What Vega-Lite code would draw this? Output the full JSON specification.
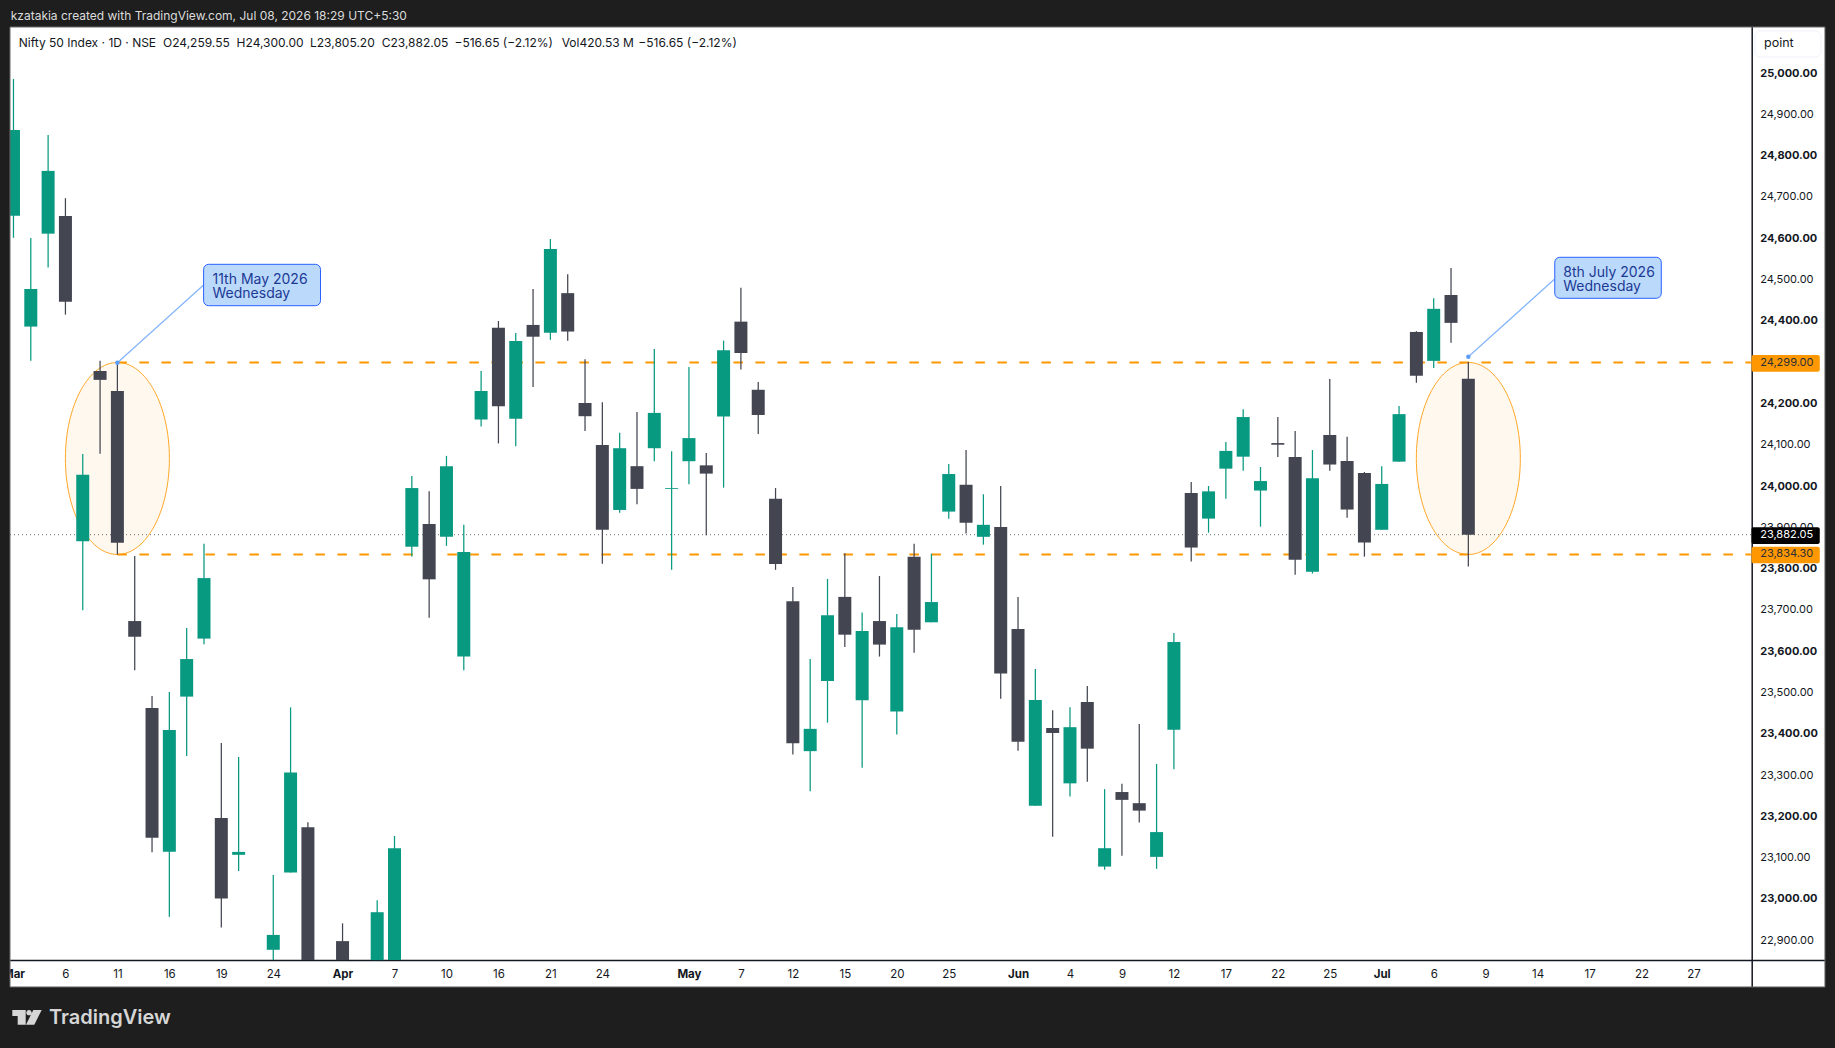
{
  "$schema": "https://vega.github.io/schema/vega-lite/v6.json",
  "width": 1835,
  "height": 1048,
  "autosize": {"type": "none"},
  "padding": 0,
  "background": "#ffffff",
  "config": {"view": {"stroke": null}, "font": "Inter", "text": {"font": "Inter"}},
  "datasets": {
    "candles": [
      {"bar":-6,"open":24654.5,"high":24985.5,"low":24601,"close":24862},
      {"bar":-5,"open":24386,"high":24600.5,"low":24303,"close":24477},
      {"bar":-4,"open":24611,"high":24850,"low":24529,"close":24763},
      {"bar":-3,"open":24654,"high":24697,"low":24415,"close":24446},
      {"bar":-2,"open":23866,"high":24077.5,"low":23699,"close":24027},
      {"bar":-1,"open":24278.5,"high":24303,"low":24078,"close":24257},
      {"bar":0,"open":24230,"high":24300,"low":23834,"close":23862.5},
      {"bar":1,"open":23673,"high":23830.5,"low":23554,"close":23635},
      {"bar":2,"open":23462.5,"high":23491.5,"low":23113,"close":23148},
      {"bar":3,"open":23114.5,"high":23501.5,"low":22957,"close":23409},
      {"bar":4,"open":23490,"high":23656,"low":23346,"close":23581},
      {"bar":5,"open":23630.5,"high":23860,"low":23617,"close":23777},
      {"bar":6,"open":23196,"high":23378,"low":22931,"close":23001},
      {"bar":7,"open":23107,"high":23344,"low":23068,"close":23114},
      {"bar":9,"open":22877,"high":23058,"low":22852,"close":22913},
      {"bar":10,"open":23064,"high":23464,"low":23064,"close":23306},
      {"bar":11,"open":23174,"high":23186,"low":22852,"close":22852},
      {"bar":13,"open":22898,"high":22941,"low":22852,"close":22852},
      {"bar":15,"open":22852,"high":22997,"low":22852,"close":22968},
      {"bar":16,"open":22852,"high":23152.5,"low":22852,"close":23123},
      {"bar":17,"open":23853,"high":24024.5,"low":23829.5,"close":23995},
      {"bar":18,"open":23908,"high":23987,"low":23681,"close":23774},
      {"bar":19,"open":23877,"high":24073,"low":23855,"close":24048},
      {"bar":20,"open":23587,"high":23906,"low":23554,"close":23840},
      {"bar":21,"open":24161,"high":24278.5,"low":24144,"close":24230},
      {"bar":22,"open":24383,"high":24399.5,"low":24103,"close":24193},
      {"bar":23,"open":24163,"high":24370.5,"low":24096,"close":24351},
      {"bar":24,"open":24390,"high":24477,"low":24240,"close":24361.5},
      {"bar":25,"open":24371,"high":24598,"low":24354,"close":24574},
      {"bar":26,"open":24467,"high":24513,"low":24352,"close":24374},
      {"bar":27,"open":24201,"high":24307,"low":24133,"close":24169},
      {"bar":28,"open":24099,"high":24203,"low":23812,"close":23894},
      {"bar":29,"open":23942,"high":24129,"low":23935,"close":24091.5},
      {"bar":30,"open":24048,"high":24179,"low":23956,"close":23993},
      {"bar":31,"open":24091.5,"high":24332,"low":24060,"close":24177},
      {"bar":32,"open":23993,"high":24084,"low":23797,"close":23995},
      {"bar":33,"open":24060,"high":24288,"low":24004,"close":24116},
      {"bar":34,"open":24050,"high":24080,"low":23881,"close":24030},
      {"bar":35,"open":24168,"high":24352,"low":23996,"close":24329},
      {"bar":36,"open":24398,"high":24480,"low":24282,"close":24322},
      {"bar":37,"open":24233,"high":24252,"low":24126,"close":24172},
      {"bar":38,"open":23969,"high":23995,"low":23797,"close":23811},
      {"bar":39,"open":23721,"high":23755.5,"low":23350,"close":23377},
      {"bar":40,"open":23358,"high":23581,"low":23261,"close":23412},
      {"bar":41,"open":23528,"high":23775,"low":23427,"close":23687},
      {"bar":42,"open":23731.5,"high":23837,"low":23610,"close":23640},
      {"bar":43,"open":23481,"high":23694,"low":23318,"close":23649},
      {"bar":44,"open":23673,"high":23782,"low":23587,"close":23616},
      {"bar":45,"open":23454,"high":23690,"low":23398,"close":23658},
      {"bar":46,"open":23829,"high":23860,"low":23596,"close":23652},
      {"bar":47,"open":23670,"high":23836,"low":23670,"close":23719},
      {"bar":48,"open":23938,"high":24053.5,"low":23921,"close":24029},
      {"bar":49,"open":24003,"high":24087,"low":23885,"close":23911},
      {"bar":50,"open":23877,"high":23980,"low":23858,"close":23906},
      {"bar":51,"open":23901,"high":24000,"low":23485,"close":23546},
      {"bar":52,"open":23654,"high":23731.5,"low":23359,"close":23381},
      {"bar":53,"open":23226,"high":23557,"low":23226,"close":23482},
      {"bar":54,"open":23414,"high":23457,"low":23151,"close":23402},
      {"bar":55,"open":23280,"high":23464,"low":23248,"close":23416},
      {"bar":56,"open":23477,"high":23516,"low":23284,"close":23364},
      {"bar":57,"open":23078.5,"high":23266,"low":23071,"close":23123},
      {"bar":58,"open":23259,"high":23279,"low":23105,"close":23240},
      {"bar":59,"open":23232,"high":23424,"low":23185,"close":23214},
      {"bar":60,"open":23102,"high":23327,"low":23073,"close":23162},
      {"bar":61,"open":23410,"high":23644,"low":23314,"close":23622},
      {"bar":62,"open":23983,"high":24010,"low":23817,"close":23851},
      {"bar":63,"open":23921,"high":24000,"low":23887,"close":23987},
      {"bar":64,"open":24042,"high":24106.5,"low":23969,"close":24085},
      {"bar":65,"open":24071,"high":24186,"low":24037,"close":24167},
      {"bar":66,"open":23989,"high":24046,"low":23901.5,"close":24012},
      {"bar":67,"open":24104,"high":24167,"low":24070,"close":24100},
      {"bar":68,"open":24070,"high":24133,"low":23785,"close":23821.5},
      {"bar":69,"open":23792.5,"high":24087,"low":23788,"close":24019},
      {"bar":70,"open":24123.5,"high":24259,"low":24037,"close":24052},
      {"bar":71,"open":24060.5,"high":24119,"low":23923,"close":23943},
      {"bar":72,"open":24031.5,"high":24034,"low":23829,"close":23863},
      {"bar":73,"open":23894,"high":24048,"low":23894,"close":24005},
      {"bar":74,"open":24059,"high":24194,"low":24059,"close":24174},
      {"bar":75,"open":24373,"high":24375,"low":24250,"close":24267},
      {"bar":76,"open":24303,"high":24454.5,"low":24286,"close":24429},
      {"bar":77,"open":24462.5,"high":24528,"low":24347,"close":24395},
      {"bar":78,"open":24259.55,"high":24300,"low":23805.2,"close":23882.05}
    ],
    "ellipses": [{"bar":0,"price":24066.65},{"bar":78,"price":24066.65}],
    "levels": [
      {"bar":0,"bar2":94.35,"price":24299},
      {"bar":0,"bar2":94.35,"price":23834.3}
    ],
    "lastPrice": [{"bar":-6.2,"bar2":94.35,"price":23882.05}],
    "connectors": [
      {"bar":0,"bar2":4.977,"price":24298.6,"price2":24486.7},
      {"bar":78,"bar2":82.97,"price":24313.1,"price2":24500.5}
    ],
    "anchors": [{"bar":0,"price":24298.6},{"bar":78,"price":24313.1}],
    "callouts": [
      {"bar":4.977,"bar2":11.727,"price":24436.6,"price2":24536.8},
      {"bar":82.99,"bar2":89.14,"price":24454.5,"price2":24553.8}
    ],
    "calloutText": [
      {"bar":5.491,"price":24498,"label":"11th May 2026"},
      {"bar":5.491,"price":24464,"label":"Wednesday"},
      {"bar":83.48,"price":24516,"label":"8th July 2026"},
      {"bar":83.48,"price":24482,"label":"Wednesday"}
    ],
    "orangeTags": [
      {"bar":94.35,"bar2":98.29,"price":24276.7,"price2":24317.2},
      {"bar":94.35,"bar2":98.29,"price":23812.8,"price2":23853}
    ],
    "orangeTagText": [
      {"bar":94.85,"price":24299,"label":"24,299.00"},
      {"bar":94.85,"price":23834.3,"label":"23,834.30"}
    ],
    "lastTag": [{"bar":94.35,"bar2":98.29,"price":23859.6,"price2":23900}],
    "lastTagText": [{"bar":94.85,"price":23882.05,"label":"23,882.05"}],
    "pointButton": [{"bar":94.55,"bar2":98.36,"price":25038.7,"price2":25101.7}],
    "pointText": [{"bar":95.07,"price":25073,"label":"point"}],
    "frame": [
      {"bar":-6.778,"bar2":-6.2,"price":22639.2,"price2":25176.8},
      {"bar":98.59,"bar2":99.17,"price":22639.2,"price2":25176.8},
      {"bar":-6.778,"bar2":99.17,"price":25111.4,"price2":25176.8},
      {"bar":-6.778,"bar2":99.17,"price":22639.2,"price2":22787}
    ],
    "outline": [{"bar":-6.2,"bar2":98.59,"price":22787,"price2":25111.4}],
    "header": [{"bar":-6.16,"price":25138.7,"label":"kzatakia created with TradingView.com, Jul 08, 2026 18:29 UTC+5:30"}],
    "legend": [
      {"bar":-5.696,"price":25073.4,"label":"Nifty 50 Index · 1D · NSE"},
      {"bar":2.633,"price":25073.4,"label":"O24,259.55"},
      {"bar":6.882,"price":25073.4,"label":"H24,300.00"},
      {"bar":11.12,"price":25073.4,"label":"L23,805.20"},
      {"bar":15.26,"price":25073.4,"label":"C23,882.05"},
      {"bar":19.46,"price":25073.4,"label":"−516.65 (−2.12%)"},
      {"bar":25.65,"price":25073.4,"label":"Vol420.53 M"},
      {"bar":30.08,"price":25073.4,"label":"−516.65 (−2.12%)"}
    ],
    "logo": [{"bar":-5.219,"price":22713.5}],
    "footer": [{"bar":-3.95,"price":22711.9,"label":"TradingView"}]
  },
  "encoding": {
    "x": {
      "field": "bar",
      "type": "quantitative",
      "title": null,
      "scale": {"domain": [-6.778, 99.17], "nice": false, "zero": false, "padding": 0},
      "axis": {
        "title": null,
        "orient": "bottom",
        "offset": -88,
        "grid": false,
        "ticks": false,
        "domainColor": "#131722",
        "domainWidth": 1.5,
        "labelPadding": 8,
        "labelFont": "Inter",
        "labelFontSize": 11.5,
        "labelColor": "#131722",
        "labelOverlap": false,
        "labelFlush": false,
        "values": [-6,-3,0,3,6,9,13,16,19,22,25,28,33,36,39,42,45,48,52,55,58,61,64,67,70,73,76,79,82,85,88,91],
        "labelExpr": "{'-6':'Mar','-3':'6','0':'11','3':'16','6':'19','9':'24','13':'Apr','16':'7','19':'10','22':'16','25':'21','28':'24','33':'May','36':'7','39':'12','42':'15','45':'20','48':'25','52':'Jun','55':'4','58':'9','61':'12','64':'17','67':'22','70':'25','73':'Jul','76':'6','79':'9','82':'14','85':'17','88':'22','91':'27'}[datum.value]",
        "labelFontWeight": {"condition": {"test": "indexof([-6,13,33,52,73], datum.value) >= 0", "value": "bold"}, "value": "normal"}
      }
    },
    "y": {
      "field": "price",
      "type": "quantitative",
      "title": null,
      "scale": {"domain": [22639.2, 25176.8], "nice": false, "zero": false},
      "axis": {
        "title": null,
        "orient": "right",
        "offset": -83.3,
        "grid": false,
        "ticks": false,
        "domainColor": "#131722",
        "domainWidth": 1.5,
        "labelPadding": 8,
        "labelFont": "Inter",
        "labelFontSize": 11,
        "labelColor": "#131722",
        "labelOverlap": false,
        "labelFlush": false,
        "format": ",.2f",
        "values": [22900,23000,23100,23200,23300,23400,23500,23600,23700,23800,23900,24000,24100,24200,24300,24400,24500,24600,24700,24800,24900,25000],
        "labelFontWeight": {"condition": {"test": "datum.value % 200 == 0", "value": 700}, "value": 400}
      }
    }
  },
  "layer": [
    {
      "data": {"name": "ellipses"},
      "mark": {
        "type": "point",
        "filled": false,
        "shape": "M-0.5417,0 A0.5417,1 0 1,1 0.5417,0 A0.5417,1 0 1,1 -0.5417,0 Z",
        "size": 36864,
        "fill": "#fff8ef",
        "fillOpacity": 1,
        "stroke": "#ffa726",
        "strokeWidth": 1,
        "opacity": 1
      }
    },
    {
      "data": {"name": "lastPrice"},
      "mark": {"type": "rule", "color": "#6b6b6b", "strokeWidth": 1, "strokeDash": [1, 3]},
      "encoding": {"x2": {"field": "bar2"}}
    },
    {
      "data": {"name": "levels"},
      "mark": {"type": "rule", "color": "#ff9800", "strokeWidth": 2, "strokeDash": [9.5, 12.5]},
      "encoding": {"x2": {"field": "bar2"}}
    },
    {
      "data": {"name": "candles"},
      "mark": {"type": "rule", "strokeWidth": 1.25},
      "encoding": {
        "y": {"field": "low", "type": "quantitative", "title": null},
        "y2": {"field": "high"},
        "color": {"condition": {"test": "datum.close >= datum.open", "value": "#089981"}, "value": "#434651"}
      }
    },
    {
      "data": {"name": "candles"},
      "mark": {"type": "bar", "size": 13},
      "encoding": {
        "y": {"field": "open", "type": "quantitative", "title": null},
        "y2": {"field": "close"},
        "color": {"condition": {"test": "datum.close >= datum.open", "value": "#089981"}, "value": "#434651"}
      }
    },
    {
      "data": {"name": "connectors"},
      "mark": {"type": "rule", "color": "#82b4fb", "strokeWidth": 1.2},
      "encoding": {"x2": {"field": "bar2"}, "y2": {"field": "price2"}}
    },
    {
      "data": {"name": "anchors"},
      "mark": {"type": "point", "filled": true, "shape": "circle", "size": 20, "color": "#5b9cf6", "opacity": 1}
    },
    {
      "data": {"name": "callouts"},
      "mark": {"type": "rect", "fill": "#bbd9fb", "stroke": "#2962ff", "strokeWidth": 1, "cornerRadius": 5},
      "encoding": {"x2": {"field": "bar2"}, "y2": {"field": "price2"}}
    },
    {
      "data": {"name": "calloutText"},
      "mark": {"type": "text", "align": "left", "baseline": "middle", "font": "Inter", "fontSize": 14, "color": "#1c3a94"},
      "encoding": {"text": {"field": "label"}}
    },
    {
      "data": {"name": "lastTag"},
      "mark": {"type": "rect", "fill": "#000000", "cornerRadius": 2},
      "encoding": {"x2": {"field": "bar2"}, "y2": {"field": "price2"}}
    },
    {
      "data": {"name": "lastTagText"},
      "mark": {"type": "text", "align": "left", "baseline": "middle", "font": "Inter", "fontSize": 11, "color": "#ffffff"},
      "encoding": {"text": {"field": "label"}}
    },
    {
      "data": {"name": "orangeTags"},
      "mark": {"type": "rect", "fill": "#ff9800", "cornerRadius": 2},
      "encoding": {"x2": {"field": "bar2"}, "y2": {"field": "price2"}}
    },
    {
      "data": {"name": "orangeTagText"},
      "mark": {"type": "text", "align": "left", "baseline": "middle", "font": "Inter", "fontSize": 11, "color": "#2a2e39"},
      "encoding": {"text": {"field": "label"}}
    },
    {
      "data": {"name": "pointButton"},
      "mark": {"type": "rect", "fill": "#ffffff", "stroke": "#f0f3fa", "strokeWidth": 1, "cornerRadius": 5},
      "encoding": {"x2": {"field": "bar2"}, "y2": {"field": "price2"}}
    },
    {
      "data": {"name": "pointText"},
      "mark": {"type": "text", "align": "left", "baseline": "middle", "font": "Inter", "fontSize": 12.5, "color": "#131722"},
      "encoding": {"text": {"field": "label"}}
    },
    {
      "data": {"name": "legend"},
      "mark": {"type": "text", "align": "left", "baseline": "middle", "font": "Inter", "fontSize": 12, "color": "#131722"},
      "encoding": {"text": {"field": "label"}}
    },
    {
      "data": {"name": "frame"},
      "mark": {"type": "rect", "fill": "#1e1e1e"},
      "encoding": {"x2": {"field": "bar2"}, "y2": {"field": "price2"}}
    },
    {
      "data": {"name": "outline"},
      "mark": {"type": "rect", "fill": null, "stroke": "#6a6a6a", "strokeWidth": 1},
      "encoding": {"x2": {"field": "bar2"}, "y2": {"field": "price2"}}
    },
    {
      "data": {"name": "header"},
      "mark": {"type": "text", "align": "left", "baseline": "middle", "font": "Inter", "fontSize": 12, "color": "#dcdcdc"},
      "encoding": {"text": {"field": "label"}}
    },
    {
      "data": {"name": "logo"},
      "mark": {
        "type": "point",
        "filled": true,
        "opacity": 1,
        "size": 864,
        "color": "#d6d6d6",
        "shape": "M-1,-0.5 L-0.088,-0.5 L-0.088,0.5 L-0.633,0.5 L-0.633,-0.092 L-1,-0.092 Z M-0.048,-0.316 A0.184,0.184 0 1,1 0.32,-0.316 A0.184,0.184 0 1,1 -0.048,-0.316 Z M0.429,-0.5 L1,-0.5 L0.497,0.5 L-0.068,0.5 Z"
      }
    },
    {
      "data": {"name": "footer"},
      "mark": {"type": "text", "align": "left", "baseline": "middle", "font": "Inter", "fontSize": 20, "fontWeight": 600, "color": "#d6d6d6"},
      "encoding": {"text": {"field": "label"}}
    }
  ]
}
